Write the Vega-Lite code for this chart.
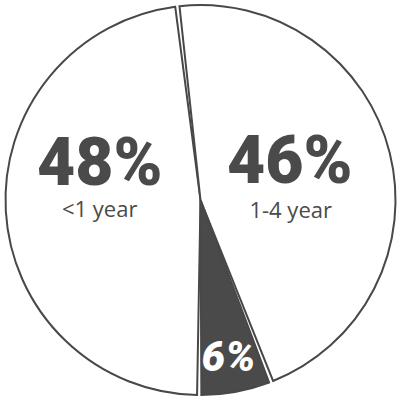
{
  "$schema": "https://vega.github.io/schema/vega-lite/v6.json",
  "autosize": {"type": "fit", "contains": "padding"},
  "width": 401,
  "height": 400,
  "padding": 0,
  "background": "white",
  "config": {"view": {"stroke": null}},
  "data": {
    "values": [
      {"label": "<1 year", "share": 0.48},
      {"label": "1-4 year", "share": 0.46},
      {"label": "5+ year", "share": 0.06}
    ]
  },
  "encoding": {
    "theta": {
      "field": "share",
      "type": "quantitative",
      "stack": true,
      "scale": {"range": [-0.119, 6.164]}
    },
    "order": {"field": "label", "sort": "ascending"}
  },
  "layer": [
    {
      "mark": {
        "type": "arc",
        "outerRadius": 195,
        "padAngle": 0.022,
        "stroke": "#484848",
        "strokeWidth": 2
      },
      "encoding": {
        "color": {
          "field": "label",
          "type": "nominal",
          "scale": {
            "domain": ["1-4 year", "5+ year", "<1 year"],
            "range": ["#ffffff", "#4a4a4a", "#ffffff"]
          },
          "legend": null
        }
      }
    },
    {
      "mark": {"type": "text", "font": "Roboto", "fontWeight": 900, "fontSize": 66, "baseline": "alphabetic", "fill": "#4a4a4a", "dx": -1, "dy": -21},
      "encoding": {
        "radius": {"value": 100},
        "text": {"condition": {"test": "datum.label === '<1 year'", "field": "share", "format": ".0%"}, "value": ""}
      }
    },
    {
      "mark": {"type": "text", "font": "Open Sans", "fontSize": 22, "baseline": "alphabetic", "fill": "#4a4a4a", "dx": -1, "dy": 11},
      "encoding": {
        "radius": {"value": 100},
        "text": {"condition": {"test": "datum.label === '<1 year'", "field": "label"}, "value": ""}
      }
    },
    {
      "mark": {"type": "text", "font": "Roboto", "fontWeight": 900, "fontSize": 66, "baseline": "alphabetic", "fill": "#4a4a4a", "dx": -3, "dy": 6},
      "encoding": {
        "radius": {"value": 95},
        "text": {"condition": {"test": "datum.label === '1-4 year'", "field": "share", "format": ".0%"}, "value": ""}
      }
    },
    {
      "mark": {"type": "text", "font": "Open Sans", "fontSize": 22, "baseline": "alphabetic", "fill": "#4a4a4a", "dx": -2, "dy": 41},
      "encoding": {
        "radius": {"value": 95},
        "text": {"condition": {"test": "datum.label === '1-4 year'", "field": "label"}, "value": ""}
      }
    },
    {
      "mark": {"type": "text", "font": "Roboto", "fontWeight": 900, "fontStyle": "italic", "fontSize": 42, "baseline": "alphabetic", "fill": "#ffffff", "dx": -1, "dy": 14},
      "encoding": {
        "radius": {"value": 160},
        "text": {"condition": {"test": "datum.label === '5+ year'", "field": "share", "format": ".0%"}, "value": ""}
      }
    }
  ]
}
